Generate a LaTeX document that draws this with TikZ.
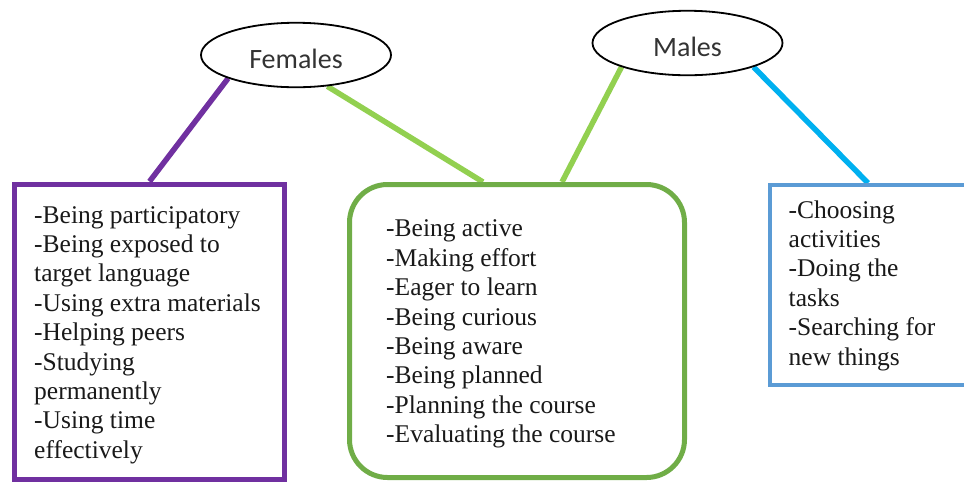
\documentclass[tikz,border=0pt]{standalone}
\usepackage{fontspec}
\setmainfont{Liberation Serif}
\newfontfamily\calib{Carlito}
\newfontfamily\romain{Liberation Serif}
\usetikzlibrary{shapes.geometric,backgrounds}
\definecolor{violet1}{HTML}{7030A0}
\definecolor{vertclair}{HTML}{92D050}
\definecolor{vertbord}{HTML}{70AD47}
\definecolor{bleuclair}{HTML}{00B0F0}
\definecolor{bleubord}{HTML}{5B9BD5}

\begin{document}
\begin{tikzpicture}[x=1pt,y=-1pt,
  groupe/.style={draw,ellipse,line width=1.8pt,fill=white,inner sep=0pt,minimum width=190pt,minimum height=64.5pt,
    font=\calib\fontsize{28}{34}\selectfont,text=black!80,text height=27pt,text depth=0pt},
  cadre/.style={draw,line width=5pt,inner sep=0pt},
  liste/.style={anchor=north west,inner sep=0pt,align=left,text=black!90,font=\romain\fontsize{25.5}{29.4}\selectfont},
  lien/.style={line width=5.5pt}]
\useasboundingbox (0,0) rectangle (964,483);

% groupes
\node[groupe] (fem) at (296,55) {Females};
\node[groupe] (mal) at (687.5,43) {Males};

% cadres
\node[cadre,draw=violet1,minimum width=270pt,minimum height=295.5pt] (gauche) at (149.5,331.75) {};
\node[cadre,draw=vertbord,rounded corners=38pt,minimum width=335pt,minimum height=293pt] (milieu) at (517,331) {};
\node[cadre,draw=bleubord,line width=4pt,minimum width=220pt,minimum height=200pt] (droite) at (880,285) {};

% textes
\node[liste] (tgauche) at (34,202.4) {\strut-Being participatory\\-Being exposed to\\target language\\-Using extra materials\\-Helping peers\\-Studying\\permanently\\-Using time\\effectively};
\node[liste] (tmilieu) at (386,216.1) {\strut-Being active\\-Making effort\\-Eager to learn\\-Being curious\\-Being aware\\-Being planned\\-Planning the course\\-Evaluating the course};
\node[liste] (tdroite) at (788.5,197.4) {\strut-Choosing\\activities\\-Doing the\\tasks\\-Searching for\\new things};

% liens
\begin{scope}[on background layer]
\draw[lien,violet1] (fem.199) -- (gauche.north);
\draw[lien,vertclair] (fem.315) -- ([xshift=-34pt]milieu.north);
\draw[lien,vertclair] (mal.200) -- ([xshift=45pt]milieu.north);
\draw[lien,bleuclair] (mal.340) -- ([xshift=100pt]droite.north west);
\end{scope}

\end{tikzpicture}
\end{document}
